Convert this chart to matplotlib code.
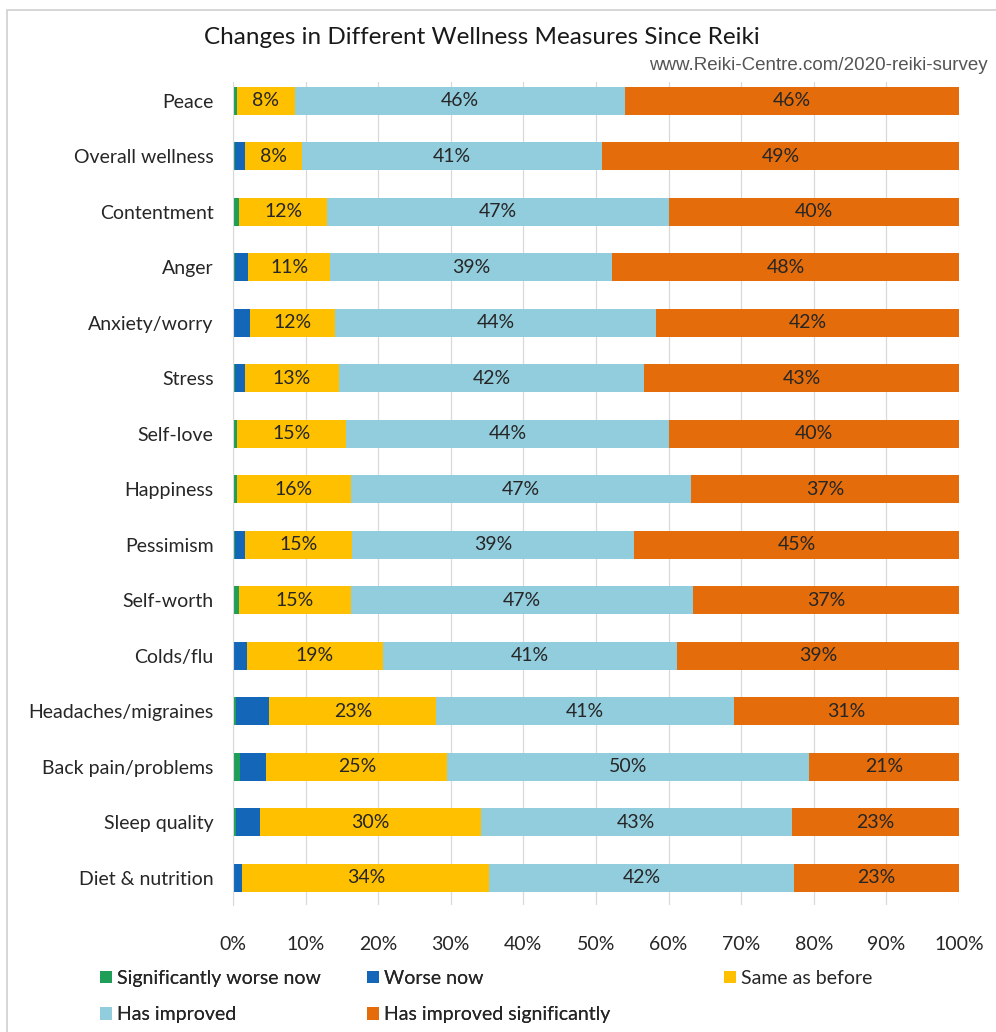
import matplotlib
matplotlib.use("Agg")
import matplotlib.pyplot as plt
from matplotlib.patches import Rectangle, Patch

plt.rcParams["font.family"] = ["Lato", "DejaVu Sans"]

categories = [
    "Peace", "Overall wellness", "Contentment", "Anger", "Anxiety/worry",
    "Stress", "Self-love", "Happiness", "Pessimism", "Self-worth",
    "Colds/flu", "Headaches/migraines", "Back pain/problems", "Sleep quality",
    "Diet & nutrition",
]
sig_worse = [0.5, 0.3, 0.8, 0.3, 0.2, 0.3, 0.6, 0.5, 0.3, 0.8, 0.2, 0.4, 1.0, 0.4, 0.2]
worse = [0.0, 1.3, 0.0, 1.8, 2.1, 1.3, 0.0, 0.0, 1.3, 0.0, 1.7, 4.6, 3.6, 3.3, 1.1]
same = [8.0, 7.9, 12.2, 11.3, 11.7, 13.0, 15.0, 15.8, 14.8, 15.4, 18.7, 23.0, 24.9, 30.4, 34.0]
improved = [45.5, 41.3, 47.0, 38.8, 44.3, 42.0, 44.4, 46.8, 38.9, 47.2, 40.6, 41.0, 49.8, 42.9, 42.0]
improved_sig = [46.0, 49.2, 40.0, 47.8, 41.7, 43.4, 40.0, 36.9, 44.7, 36.6, 38.8, 31.0, 20.7, 23.0, 22.7]

series = [
    ("Significantly worse now", sig_worse, "#1E9E57", False),
    ("Worse now", worse, "#1467B8", False),
    ("Same as before", same, "#FFC000", True),
    ("Has improved", improved, "#92CDDD", True),
    ("Has improved significantly", improved_sig, "#E46C0A", True),
]

FS = 14
W, H = 996, 1032
fig = plt.figure(figsize=(W / 100, H / 100), dpi=100)

# outer frame like the screenshot
fig.patches.append(Rectangle((7 / W, -0.05), 1.2, 1 - 10 / H + 0.05,
                             transform=fig.transFigure, fill=False,
                             edgecolor="#d0d0d0", linewidth=1.2))

ax = fig.add_axes([233 / W, 1 - 905 / H, (959 - 233) / W, (905 - 82) / H])

ypos = list(range(len(categories)))
left = [0.0] * len(categories)
for name, vals, color, labelled in series:
    ax.barh(ypos, vals, left=left, height=0.5, color=color, label=name)
    if labelled:
        for y, l, v in zip(ypos, left, vals):
            ax.text(l + v / 2, y, f"{v:.0f}%", ha="center", va="center",
                    fontsize=FS, color="#262626")
    left = [a + b for a, b in zip(left, vals)]

ax.set_xlim(0, 100)
ax.set_ylim(14.49, -0.34)
ax.set_xticks(range(0, 101, 10))
ax.set_xticklabels([f"{t}%" for t in range(0, 101, 10)], fontsize=FS, color="#262626")
ax.set_yticks(ypos)
ax.set_yticklabels(categories, fontsize=FS, color="#262626")
ax.tick_params(length=0, pad=14)
ax.tick_params(axis="x", pad=22)
ax.grid(axis="x", color="#d9d9d9", linewidth=0.9)
ax.set_axisbelow(True)
for s in ["top", "right", "bottom"]:
    ax.spines[s].set_visible(False)
ax.spines["left"].set_color("#d9d9d9")

fig.text(482 / W, 1 - 38 / H, "Changes in Different Wellness Measures Since Reiki",
         ha="center", va="center", fontsize=17.5, color="#1a1a1a")
fig.text(988 / W, 1 - 65 / H, "www.Reiki-Centre.com/2020-reiki-survey",
         ha="right", va="center", fontsize=13.5, color="#555555",
         family=["Liberation Sans", "DejaVu Sans"])

hs = {name: Patch(facecolor=color) for name, _, color, _ in series}
order = ["Significantly worse now", "Has improved", "Worse now", "Has improved significantly"]
leg_kw = dict(loc="upper left", frameon=False, fontsize=FS, handlelength=0.6,
              handleheight=0.6, handletextpad=0.25, borderaxespad=0, borderpad=0,
              labelcolor="#262626")
leg1 = fig.legend([hs[n] for n in order], order, ncol=2,
                  bbox_to_anchor=(100 / W, 1 - 970 / H),
                  columnspacing=2.4, labelspacing=1.0, **leg_kw)
fig.legend([hs["Same as before"]], ["Same as before"],
           bbox_to_anchor=(724 / W, 1 - 970 / H), **leg_kw)
fig.add_artist(leg1)

fig.savefig("out.png", dpi=100)
